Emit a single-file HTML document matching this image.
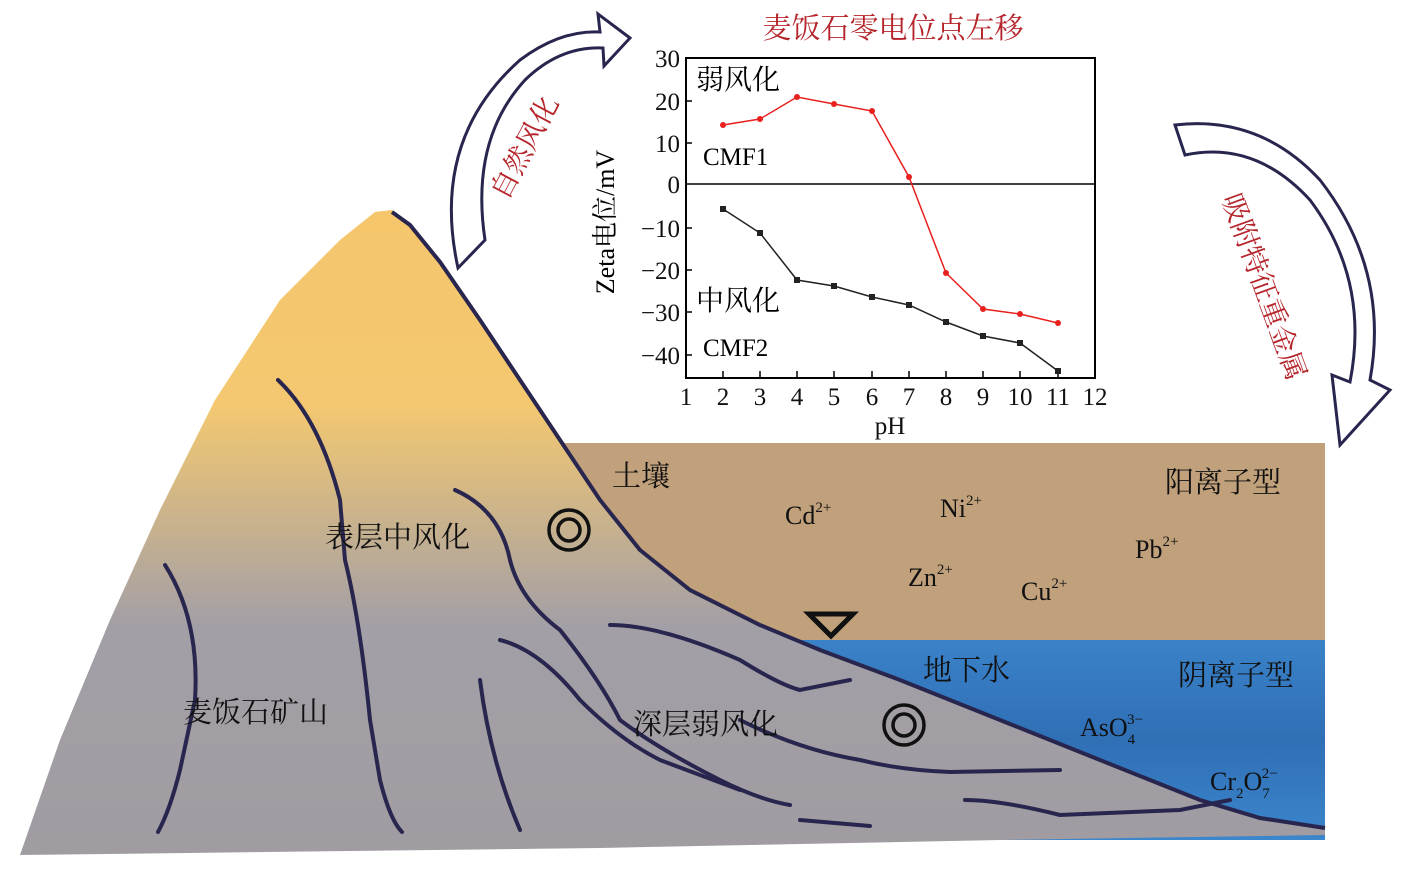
<!DOCTYPE html>
<html><head><meta charset="utf-8"><style>
html,body{margin:0;padding:0;background:#fff;}
svg{display:block}
text{font-family:"Liberation Serif","Noto Serif CJK SC",serif;}
.cn{font-family:"Liberation Serif","Noto Serif CJK SC",serif;}
</style></head><body>
<svg width="1417" height="884" viewBox="0 0 1417 884" xmlns="http://www.w3.org/2000/svg">
<defs>
<linearGradient id="mt" gradientUnits="userSpaceOnUse" x1="0" y1="210" x2="0" y2="860">
<stop offset="0" stop-color="#f5c66c"/><stop offset="0.3" stop-color="#f3c870"/><stop offset="0.64" stop-color="#a39fa6"/><stop offset="1" stop-color="#a09ca2"/>
</linearGradient>
<filter id="noise" x="0" y="0" width="100%" height="100%">
<feTurbulence type="fractalNoise" baseFrequency="0.5" numOctaves="2" seed="3"/>
<feColorMatrix values="0 0 0 0 0.45  0 0 0 0 0.33  0 0 0 0 0.2  0 0 0 0 0.35"/>
</filter>
<linearGradient id="wat" gradientUnits="userSpaceOnUse" x1="0" y1="640" x2="0" y2="840">
<stop offset="0" stop-color="#3a82c8"/><stop offset="0.5" stop-color="#2f6fb6"/><stop offset="1" stop-color="#3c86cc"/>
</linearGradient>
</defs>

<rect x="555" y="443" width="770" height="198" fill="#c9a47a"/>
<rect x="555" y="443" width="770" height="198" filter="url(#noise)"/>
<rect x="780" y="640" width="545" height="200" fill="url(#wat)"/>

<path d="M20,855 L60,740 L110,620 L160,510 L215,400 L280,300 L340,240 L375,212 L392,210 L410,225 L440,262 L480,320 L520,380 L560,440 L600,500 L640,550 L690,590 L760,625 L820,650 L900,680 L1000,720 L1100,760 L1200,800 L1260,818 L1325,828 L1325,835 L1000,840 L600,848 Z" fill="url(#mt)"/>
<path d="M392,212 L410,225 L440,262 L480,320 L520,380 L560,440 L600,500 L640,550 L690,590 L760,625 L820,650 L900,680 L1000,720 L1100,760 L1200,800 L1260,818 L1325,828" fill="none" stroke="#28264e" stroke-width="4"/>

<g fill="none" stroke="#28264e" stroke-width="4" stroke-linecap="round">
<path d="M278,380 Q320,420 340,500 L345,560 Q360,620 370,720 L380,780 Q390,820 402,832"/>
<path d="M165,565 Q200,620 195,700 L180,770 Q170,810 158,832"/>
<path d="M455,490 Q500,510 510,560 Q520,600 560,630 Q600,680 620,720 Q660,750 720,780 Q760,800 790,805"/>
<path d="M500,640 Q540,650 580,700 Q620,740 660,760 Q700,775 740,790"/>
<path d="M480,680 Q490,760 520,830"/>
<path d="M610,625 Q660,625 740,660 Q780,685 800,690 L850,680"/>
<path d="M740,720 Q800,750 860,760 Q900,770 950,772 L1060,770"/>
<path d="M965,800 Q1000,800 1060,815 L1180,810 L1230,800"/>
<path d="M800,820 L870,826"/>
</g>

<path d="M458,268 Q430,140 520,60 Q560,30 600,32 L598,14 L630,38 L604,66 L603,48 Q560,46 525,80 Q470,140 485,240 Z" fill="#fff" stroke="#28264e" stroke-width="3"/>
<path d="M1175,125 Q1260,115 1320,180 Q1390,270 1370,380 L1390,390 L1340,445 L1332,375 L1350,382 Q1370,280 1310,200 Q1255,140 1185,155 Z" fill="#fff" stroke="#28264e" stroke-width="3"/>

<rect x="686" y="58" width="409" height="320" fill="#fff" stroke="#000" stroke-width="2"/>
<line x1="686" y1="184" x2="1095" y2="184" stroke="#000" stroke-width="1.5"/>
<g stroke="#000" stroke-width="1.5">
<line x1="686" y1="101" x2="692" y2="101"/><line x1="686" y1="143" x2="692" y2="143"/><line x1="686" y1="228" x2="692" y2="228"/><line x1="686" y1="270" x2="692" y2="270"/><line x1="686" y1="312" x2="692" y2="312"/><line x1="686" y1="355" x2="692" y2="355"/>
<line x1="723" y1="378" x2="723" y2="371"/><line x1="760" y1="378" x2="760" y2="371"/><line x1="797" y1="378" x2="797" y2="371"/><line x1="834" y1="378" x2="834" y2="371"/><line x1="872" y1="378" x2="872" y2="371"/><line x1="909" y1="378" x2="909" y2="371"/><line x1="946" y1="378" x2="946" y2="371"/><line x1="983" y1="378" x2="983" y2="371"/><line x1="1020" y1="378" x2="1020" y2="371"/><line x1="1058" y1="378" x2="1058" y2="371"/>
</g>
<polyline points="723,125 760,119 797,97 834,104 872,111 909,177 946,273 983,309 1020,314 1058,323" fill="none" stroke="#e8201e" stroke-width="1.5"/>
<g fill="#e8201e"><circle cx="723" cy="125" r="3"/><circle cx="760" cy="119" r="3"/><circle cx="797" cy="97" r="3"/><circle cx="834" cy="104" r="3"/><circle cx="872" cy="111" r="3"/><circle cx="909" cy="177" r="3"/><circle cx="946" cy="273" r="3"/><circle cx="983" cy="309" r="3"/><circle cx="1020" cy="314" r="3"/><circle cx="1058" cy="323" r="3"/></g>
<polyline points="723,209 760,233 797,280 834,286 872,297 909,305 946,322 983,336 1020,343 1058,371" fill="none" stroke="#222" stroke-width="1.5"/>
<g fill="#222"><rect x="720" y="206" width="6" height="6"/><rect x="757" y="230" width="6" height="6"/><rect x="794" y="277" width="6" height="6"/><rect x="831" y="283" width="6" height="6"/><rect x="869" y="294" width="6" height="6"/><rect x="906" y="302" width="6" height="6"/><rect x="943" y="319" width="6" height="6"/><rect x="980" y="333" width="6" height="6"/><rect x="1017" y="340" width="6" height="6"/><rect x="1055" y="368" width="6" height="6"/></g>
<g font-size="25" text-anchor="end" fill="#111">
<text x="680" y="67">30</text><text x="680" y="110">20</text><text x="680" y="152">10</text><text x="680" y="193">0</text><text x="680" y="237">−10</text><text x="680" y="279">−20</text><text x="680" y="321">−30</text><text x="680" y="364">−40</text>
</g>
<g font-size="25" text-anchor="middle" fill="#111">
<text x="686" y="405">1</text><text x="723" y="405">2</text><text x="760" y="405">3</text><text x="797" y="405">4</text><text x="834" y="405">5</text><text x="872" y="405">6</text><text x="909" y="405">7</text><text x="946" y="405">8</text><text x="983" y="405">9</text><text x="1020" y="405">10</text><text x="1058" y="405">11</text><text x="1095" y="405">12</text>
<text x="890" y="434">pH</text>
</g>
<text transform="translate(614,222) rotate(-90)" font-size="26" text-anchor="middle" class="cn">Zeta电位/mV</text>
<text x="696" y="89" font-size="28" class="cn">弱风化</text>
<text x="703" y="165" font-size="25">CMF1</text>
<text x="696" y="310" font-size="28" class="cn">中风化</text>
<text x="703" y="356" font-size="25">CMF2</text>

<text x="893" y="38" font-size="29" fill="#b5242a" text-anchor="middle" class="cn">麦饭石零电位点左移</text>
<text transform="translate(533,152) rotate(-62)" font-size="28" fill="#b5242a" text-anchor="middle" class="cn">自然风化</text>
<text transform="translate(1255,290) rotate(70)" font-size="28" fill="#b5242a" text-anchor="middle" class="cn">吸附特征重金属</text>

<g font-size="29" fill="#111" class="cn">
<text x="612" y="486" class="cn">土壤</text>
<text x="1165" y="492" class="cn">阳离子型</text>
<text x="325" y="547" class="cn">表层中风化</text>
<text x="923" y="680" class="cn">地下水</text>
<text x="1178" y="685" class="cn">阴离子型</text>
<text x="183" y="722" class="cn">麦饭石矿山</text>
<text x="633" y="734" class="cn">深层弱风化</text>
</g>
<g font-size="26" fill="#111">
<text x="785" y="524">Cd<tspan font-size="15" dy="-12">2+</tspan></text>
<text x="940" y="517">Ni<tspan font-size="15" dy="-12">2+</tspan></text>
<text x="908" y="586">Zn<tspan font-size="15" dy="-12">2+</tspan></text>
<text x="1021" y="600">Cu<tspan font-size="15" dy="-12">2+</tspan></text>
<text x="1135" y="558">Pb<tspan font-size="15" dy="-12">2+</tspan></text>
<text x="1080" y="736">AsO<tspan font-size="15" dy="8">4</tspan><tspan font-size="15" dx="-8" dy="-20">3−</tspan></text>
<text x="1210" y="790">Cr<tspan font-size="15" dy="8">2</tspan><tspan dy="-8">O</tspan><tspan font-size="15" dy="8">7</tspan><tspan font-size="15" dx="-8" dy="-20">2−</tspan></text>
</g>
<g fill="none" stroke="#111" stroke-width="3.5">
<circle cx="569" cy="530" r="20"/><circle cx="569" cy="530" r="11"/>
<circle cx="904" cy="725" r="20"/><circle cx="904" cy="725" r="11"/>
</g>
<path d="M809,614 L853,614 L831,636 Z" fill="none" stroke="#111" stroke-width="5"/>
</svg>
</body></html>
